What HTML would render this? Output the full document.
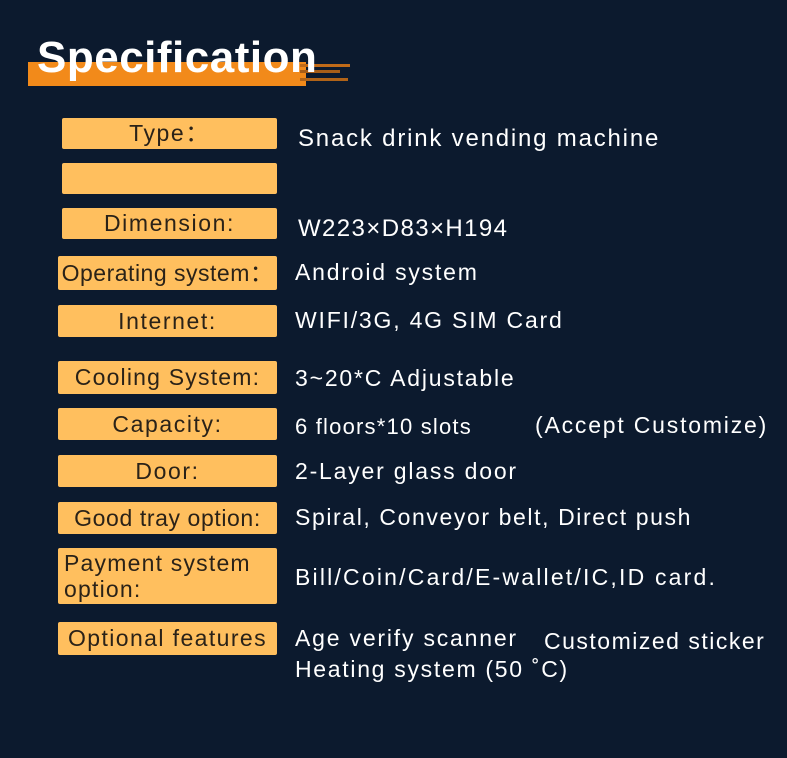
<!DOCTYPE html>
<html><head><meta charset="utf-8"><style>
body{margin:0;width:787px;height:758px;background:#0c1a2e;position:relative;overflow:hidden;font-family:"Liberation Sans",sans-serif}
.b{position:absolute;background:#ffbf5e;border-radius:2px;color:#2a2218;font-size:23px;letter-spacing:1.6px;text-align:center;line-height:1;display:flex;align-items:center;justify-content:center;box-sizing:border-box;white-space:nowrap}
.v{position:absolute;color:#fff;font-size:23px;letter-spacing:1.8px;white-space:nowrap;line-height:1}
</style></head><body>
<div style="position:absolute;left:28px;top:62px;width:278px;height:24px;background:#f28a1a"></div>
<div style="position:absolute;left:300px;top:64px;width:50px;height:3px;background:#c06a18"></div>
<div style="position:absolute;left:300px;top:70px;width:40px;height:3px;background:#a85e18"></div>
<div style="position:absolute;left:300px;top:78px;width:48px;height:3px;background:#b06318"></div>
<div style="position:absolute;left:37px;top:36px;color:#fff;font-weight:bold;font-size:44px;line-height:1;letter-spacing:0.5px">Specification</div>

<div class="b" style="left:62px;top:118px;width:215px;height:31px">Type：</div>
<div class="b" style="left:62px;top:163px;width:215px;height:31px"></div>
<div class="b" style="left:62px;top:208px;width:215px;height:31px">Dimension:</div>
<div class="b" style="left:58px;top:256px;width:219px;height:34px;letter-spacing:0.5px">Operating system：</div>
<div class="b" style="left:58px;top:305px;width:219px;height:32px">Internet:</div>
<div class="b" style="left:58px;top:361px;width:219px;height:33px;letter-spacing:1.2px">Cooling System:</div>
<div class="b" style="left:58px;top:408px;width:219px;height:32px">Capacity:</div>
<div class="b" style="left:58px;top:455px;width:219px;height:32px">Door:</div>
<div class="b" style="left:58px;top:502px;width:219px;height:32px;letter-spacing:0.6px">Good tray option:</div>
<div class="b" style="left:58px;top:548px;width:219px;height:56px;justify-content:flex-start;text-align:left;padding-left:6px;line-height:26px;letter-spacing:1.2px">Payment system<br>option:</div>
<div class="b" style="left:58px;top:622px;width:219px;height:33px;letter-spacing:1.4px">Optional features</div>

<div class="v" style="left:298px;top:127px;font-size:24px">Snack drink vending machine</div>
<div class="v" style="left:298px;top:217px;font-size:24px;letter-spacing:1.4px">W223×D83×H194</div>
<div class="v" style="left:295px;top:261px">Android system</div>
<div class="v" style="left:295px;top:309px">WIFI/3G, 4G SIM Card</div>
<div class="v" style="left:295px;top:367px">3~20*C Adjustable</div>
<div class="v" style="left:295px;top:416px;font-size:22px;letter-spacing:1.2px">6 floors*10 slots</div>
<div class="v" style="left:535px;top:414px">(Accept Customize)</div>
<div class="v" style="left:295px;top:460px">2-Layer glass door</div>
<div class="v" style="left:295px;top:506px;letter-spacing:1.6px">Spiral, Conveyor belt, Direct push</div>
<div class="v" style="left:295px;top:566px;letter-spacing:2.2px">Bill/Coin/Card/E-wallet/IC,ID card.</div>
<div class="v" style="left:295px;top:627px">Age verify scanner</div>
<div class="v" style="left:544px;top:630px;letter-spacing:1.5px">Customized sticker</div>
<div class="v" style="left:295px;top:658px;letter-spacing:1.7px">Heating system (50 ˚C)</div>
</body></html>
